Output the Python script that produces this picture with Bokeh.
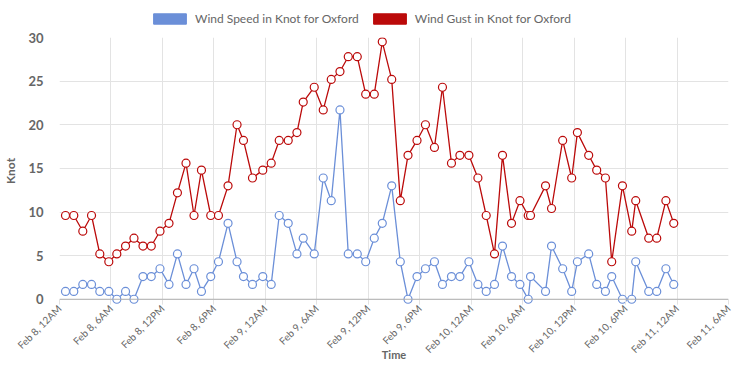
import numpy as np
import pandas as pd
from bokeh.plotting import figure
from bokeh.layouts import column
from bokeh.models import FixedTicker, Range1d, Legend, LegendItem, Span
from bokeh.embed import file_html
from bokeh.resources import INLINE

# ---- data ----
obs_times = [
    "2024-02-08 00:42", "2024-02-08 01:40", "2024-02-08 02:43", "2024-02-08 03:44",
    "2024-02-08 04:42", "2024-02-08 05:45", "2024-02-08 06:41", "2024-02-08 07:42",
    "2024-02-08 08:41", "2024-02-08 09:44", "2024-02-08 10:42", "2024-02-08 11:43",
    "2024-02-08 12:46", "2024-02-08 13:45", "2024-02-08 14:45", "2024-02-08 15:41",
    "2024-02-08 16:33", "2024-02-08 17:38", "2024-02-08 18:32", "2024-02-08 19:39",
    "2024-02-08 20:42", "2024-02-08 21:27", "2024-02-08 22:30", "2024-02-08 23:42",
    "2024-02-09 00:41", "2024-02-09 01:37", "2024-02-09 02:40", "2024-02-09 03:41",
    "2024-02-09 04:25", "2024-02-09 05:42", "2024-02-09 06:45", "2024-02-09 07:41",
    "2024-02-09 08:42", "2024-02-09 09:40", "2024-02-09 10:43", "2024-02-09 11:42",
    "2024-02-09 12:42", "2024-02-09 13:38", "2024-02-09 14:44", "2024-02-09 15:44",
    "2024-02-09 16:38", "2024-02-09 17:41", "2024-02-09 18:40", "2024-02-09 19:43",
    "2024-02-09 20:39", "2024-02-09 21:42", "2024-02-09 22:41", "2024-02-09 23:44",
    "2024-02-10 00:47", "2024-02-10 01:45", "2024-02-10 02:43", "2024-02-10 03:39",
    "2024-02-10 04:42", "2024-02-10 05:41", "2024-02-10 06:39", "2024-02-10 06:55",
    "2024-02-10 08:40", "2024-02-10 09:22", "2024-02-10 10:40", "2024-02-10 11:43",
    "2024-02-10 12:23", "2024-02-10 13:42", "2024-02-10 14:38", "2024-02-10 15:39",
    "2024-02-10 16:23", "2024-02-10 17:38", "2024-02-10 18:43", "2024-02-10 19:11",
    "2024-02-10 20:42", "2024-02-10 21:38", "2024-02-10 22:42", "2024-02-10 23:37",
]
wind_speed = [
    0.9, 0.9, 1.7, 1.7, 0.9, 0.9, 0.0, 0.9, 0.0, 2.6, 2.6, 3.5,
    1.7, 5.2, 1.7, 3.5, 0.9, 2.6, 4.3, 8.7, 4.3, 2.6, 1.7, 2.6,
    1.7, 9.6, 8.7, 5.2, 7.0, 5.2, 13.9, 11.3, 21.7, 5.2, 5.2, 4.3,
    7.0, 8.7, 13.0, 4.3, 0.0, 2.6, 3.5, 4.3, 1.7, 2.6, 2.6, 4.3,
    1.7, 0.9, 1.7, 6.1, 2.6, 1.7, 0.0, 2.6, 0.9, 6.1, 3.5, 0.9,
    4.3, 5.2, 1.7, 0.9, 2.6, 0.0, 0.0, 4.3, 0.9, 0.9, 3.5, 1.7,
]
wind_gust = [
    9.6, 9.6, 7.8, 9.6, 5.2, 4.3, 5.2, 6.1, 7.0, 6.1, 6.1, 7.8,
    8.7, 12.2, 15.6, 9.6, 14.8, 9.6, 9.6, 13.0, 20.0, 18.2, 13.9, 14.8,
    15.6, 18.2, 18.2, 19.1, 22.6, 24.3, 21.7, 25.2, 26.1, 27.8, 27.8, 23.5,
    23.5, 29.5, 25.2, 11.3, 16.5, 18.2, 20.0, 17.4, 24.3, 15.6, 16.5, 16.5,
    13.9, 9.6, 5.2, 16.5, 8.7, 11.3, 9.6, 9.6, 13.0, 10.4, 18.2, 13.9,
    19.1, 16.5, 14.8, 13.9, 4.3, 13.0, 7.8, 11.3, 7.0, 7.0, 11.3, 8.7,
]
tick_times = [
    "2024-02-08 00:00", "2024-02-08 06:00", "2024-02-08 12:00", "2024-02-08 18:00",
    "2024-02-09 00:00", "2024-02-09 06:00", "2024-02-09 12:00", "2024-02-09 18:00",
    "2024-02-10 00:00", "2024-02-10 06:00", "2024-02-10 12:00", "2024-02-10 18:00",
    "2024-02-11 00:00", "2024-02-11 06:00",
]
tick_labels = [
    "Feb 8, 12AM", "Feb 8, 6AM", "Feb 8, 12PM", "Feb 8, 6PM",
    "Feb 9, 12AM", "Feb 9, 6AM", "Feb 9, 12PM", "Feb 9, 6PM",
    "Feb 10, 12AM", "Feb 10, 6AM", "Feb 10, 12PM", "Feb 10, 6PM",
    "Feb 11, 12AM", "Feb 11, 6AM",
]
y_ticks = [0, 5, 10, 15, 20, 25, 30]
speed_label = "Wind Speed in Knot for Oxford"
gust_label = "Wind Gust in Knot for Oxford"


def to_hours(strings):
    t = pd.to_datetime(strings)
    return [float(v) for v in (t - pd.Timestamp("2024-02-08 00:00")) / pd.Timedelta(hours=1)]


x = to_hours(obs_times)
xt = to_hours(tick_times)

BLUE = "#6b8fd8"
RED = "#bb0a0a"
TXT = "#666666"
FONT = "Lato"

# ---------- legend strip ----------
lg = figure(width=725, height=28, output_backend="svg", toolbar_location=None,
            x_axis_location=None, y_axis_location=None, title=None,
            x_range=Range1d(0, 1), y_range=Range1d(0, 1),
            min_border_left=0, min_border_right=0, min_border_top=0, min_border_bottom=0)
lg.outline_line_color = None
lg.xgrid.visible = False
lg.ygrid.visible = False
# swatch renderers (kept outside the visible range; only their legend glyphs show)
sw_speed = lg.quad(left=[2], right=[3], top=[3], bottom=[2], fill_color=BLUE, line_color=BLUE)
sw_gust = lg.quad(left=[2], right=[3], top=[3], bottom=[2], fill_color=RED, line_color=RED)
legend = Legend(items=[LegendItem(label=speed_label, renderers=[sw_speed]),
                       LegendItem(label=gust_label, renderers=[sw_gust])],
                orientation="horizontal", location=(90, 2),
                glyph_width=41, glyph_height=13, label_height=13, label_standoff=5, spacing=10,
                label_text_font=FONT, label_text_font_size="12px", label_text_color=TXT,
                border_line_alpha=0, background_fill_alpha=0, margin=0, padding=0)
lg.add_layout(legend, "center")

# ---------- main chart ----------
p = figure(frame_width=669, frame_height=267, output_backend="svg", toolbar_location=None,
           title=None, x_range=Range1d(xt[0], xt[-1]), y_range=Range1d(-0.6, 30),
           min_border_left=50, min_border_right=6, min_border_top=9, min_border_bottom=54)
p.outline_line_color = None

p.xgrid.ticker = FixedTicker(ticks=xt)
p.ygrid.ticker = FixedTicker(ticks=y_ticks)
p.xgrid.grid_line_color = "#e3e3e3"
p.ygrid.grid_line_color = "#e3e3e3"

xa = p.xaxis[0]
xa.ticker = FixedTicker(ticks=xt)
xa.major_label_overrides = {t: lab for t, lab in zip(xt, tick_labels)}
xa.major_label_orientation = np.pi / 4
xa.axis_line_color = None
xa.major_tick_in = 5
xa.major_tick_out = 0
xa.major_tick_line_color = "#e3e3e3"
xa.minor_tick_line_color = None
xa.major_label_text_font = FONT
xa.major_label_text_font_size = "10px"
xa.major_label_text_color = TXT
xa.major_label_standoff = 2
xa.axis_label = "Time"
xa.axis_label_text_font = FONT
xa.axis_label_text_font_size = "11px"
xa.axis_label_text_font_style = "bold"
xa.axis_label_text_color = TXT
xa.axis_label_standoff = -14

ya = p.yaxis[0]
ya.ticker = FixedTicker(ticks=y_ticks)
ya.axis_line_color = None
ya.major_tick_line_color = None
ya.minor_tick_line_color = None
ya.major_label_text_font = FONT
ya.major_label_text_font_size = "13px"
ya.major_label_text_font_style = "bold"
ya.major_label_text_color = TXT
ya.major_label_standoff = 10
ya.axis_label = "Knot"
ya.axis_label_text_font = FONT
ya.axis_label_text_font_size = "12px"
ya.axis_label_text_font_style = "bold"
ya.axis_label_text_color = TXT
ya.axis_label_standoff = 7

p.add_layout(Span(location=0, dimension="width", line_color="#b0b0b0", line_width=1))

p.line(x, wind_speed, line_color=BLUE, line_width=1.3)
p.scatter(x, wind_speed, marker="circle", size=8, fill_color="white", line_color=BLUE, line_width=1.2)
p.line(x, wind_gust, line_color=RED, line_width=1.3)
p.scatter(x, wind_gust, marker="circle", size=8, fill_color="white", line_color=RED, line_width=1.2)

layout = column(lg, p, spacing=0)
open("out.html", "w").write(file_html(layout, INLINE))
